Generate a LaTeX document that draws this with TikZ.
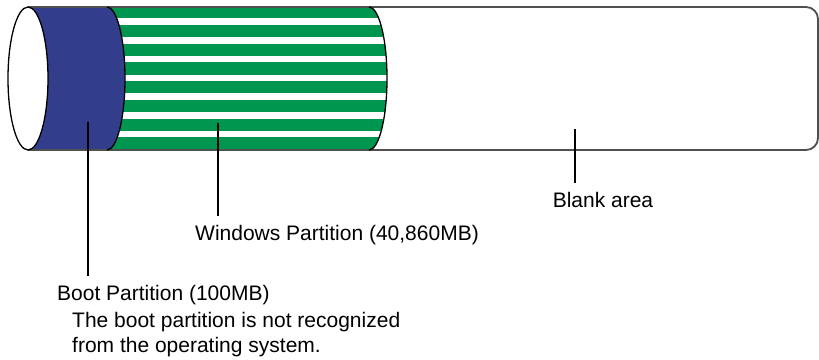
\documentclass[tikz,border=0pt]{standalone}
\usepackage{fontspec}
\setmainfont{Liberation Sans}
\usepackage{xcolor}
\usetikzlibrary{positioning}

\definecolor{bootblue}{RGB}{50,62,140}
\definecolor{wingreen}{RGB}{0,150,80}
\definecolor{rimgray}{RGB}{80,80,80}

\tikzset{
  lbl/.style={inner sep=0pt, font=\fontsize{21}{25}\selectfont},
  leader/.style={line width=2.8pt, black},
  rim/.style={line width=1.3pt, black},
}

\begin{document}
\begin{tikzpicture}[x=1pt,y=1pt]
\useasboundingbox (0,0) rectangle (819,359);

% Boot partition
\fill[bootblue] (28,352) -- (107,352) arc[start angle=90,end angle=-90,x radius=18,y radius=71.5]
  -- (28,209) arc[start angle=-90,end angle=90,x radius=20,y radius=71.5] -- cycle;

% Windows partition
\begin{scope}
\clip (107,352) -- (369,352) arc[start angle=90,end angle=-90,x radius=18,y radius=71.5]
  -- (107,209) arc[start angle=-90,end angle=90,x radius=18,y radius=71.5] -- cycle;
\fill[wingreen] (100,200) rectangle (400,360);
\foreach \k in {0,...,6}
  \fill[white] (100,{337.3-18.75*\k-3.3}) rectangle (400,{337.3-18.75*\k+3.3});
\end{scope}

% Disk outline
\draw[line width=1.8pt, rimgray, rounded corners=12pt] (28,352) -- (818,352) -- (818,209) -- (28,209);
\draw[rim, fill=white] (28,280.5) ellipse [x radius=20, y radius=71.5];
\draw[rim] (107,352) arc[start angle=90,end angle=-90,x radius=18,y radius=71.5];
\draw[rim] (369,352) arc[start angle=90,end angle=-90,x radius=18,y radius=71.5];

% Labels
\coordinate (boottip) at (88,237);
\coordinate (wintip) at (218,236);
\coordinate (blanktip) at (575,230);

\node[lbl, anchor=west] (winlbl) at (195,124) {Windows Partition (40,860MB)};
\node[lbl, anchor=center] (blanklbl) at (603,159) {Blank area};
\node[lbl, anchor=west] (bootlbl) at (57,64) {Boot Partition (100MB)};
\node[lbl, align=left, below=7pt of bootlbl.south west, xshift=15pt, anchor=north west] (bootnote)
  {The boot partition is not recognized\\from the operating system.};

% Leader lines
\draw[leader] (boottip) -- ([yshift=9pt]boottip |- bootlbl.north);
\draw[leader] (wintip) -- ([yshift=9pt]wintip |- winlbl.north);
\draw[leader] (blanktip) -- ([yshift=9pt]blanktip |- blanklbl.north);

\end{tikzpicture}
\end{document}
